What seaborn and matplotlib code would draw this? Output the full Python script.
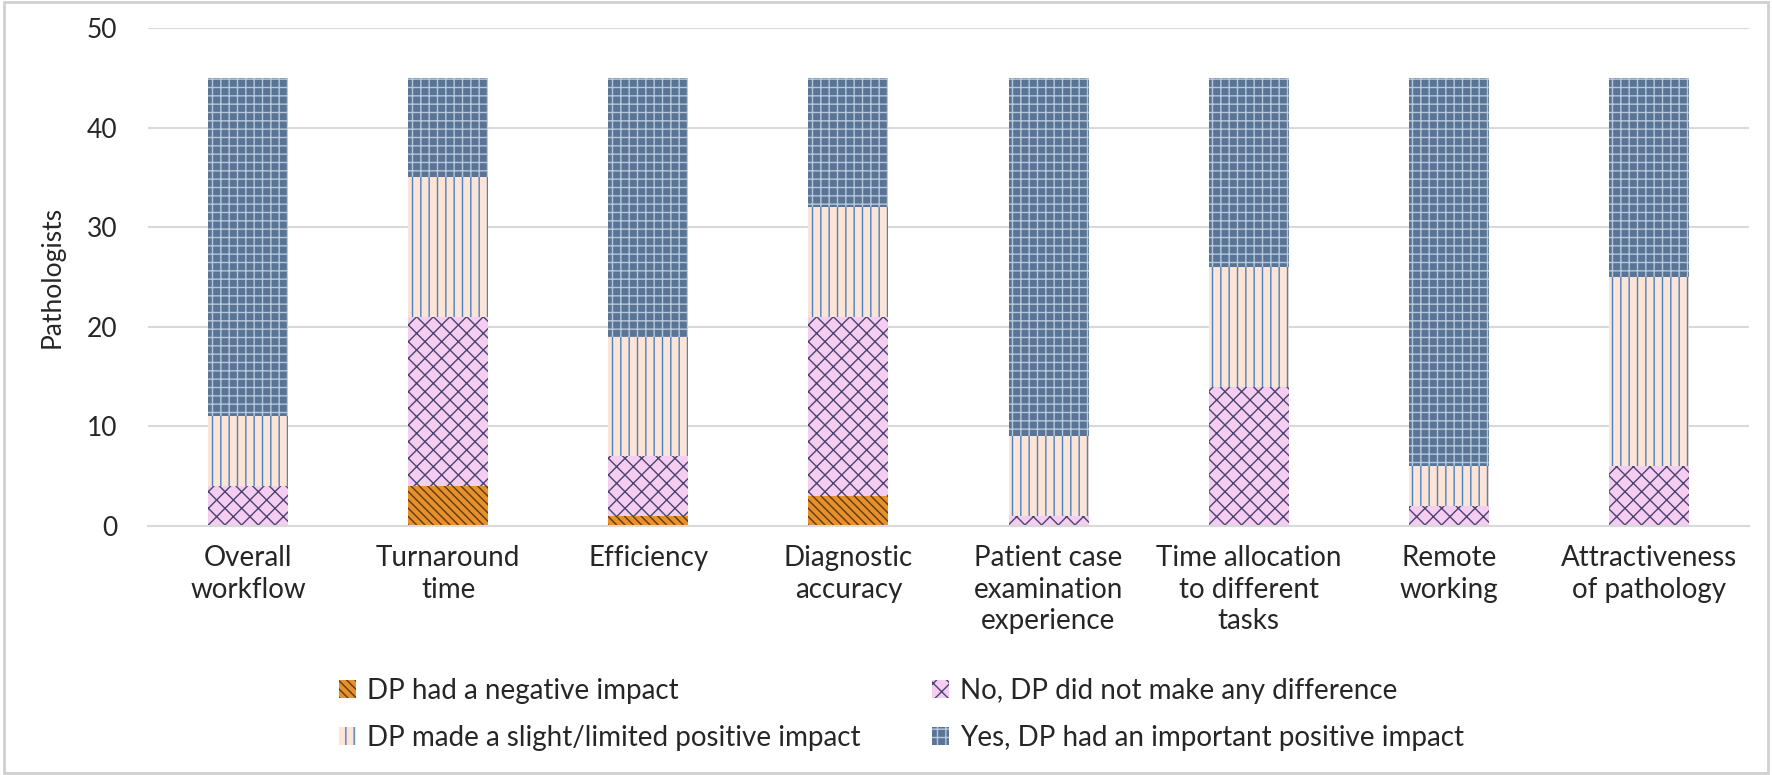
import numpy as np
import pandas as pd
import matplotlib
matplotlib.use("Agg")
import matplotlib.pyplot as plt
import seaborn as sns
from matplotlib.patches import Patch, Rectangle

# --- data ---
categories = ["Overall\nworkflow", "Turnaround\ntime", "Efficiency", "Diagnostic\naccuracy",
              "Patient case\nexamination\nexperience", "Time allocation\nto different\ntasks",
              "Remote\nworking", "Attractiveness\nof pathology"]
negative = [0, 4, 1, 3, 0, 0, 0, 0]
no_difference = [4, 17, 6, 18, 1, 14, 2, 6]
slight_positive = [7, 14, 12, 11, 8, 12, 4, 19]
important_positive = [34, 10, 26, 13, 36, 19, 39, 20]

series_names = ["DP had a negative impact", "No, DP did not make any difference",
                "DP made a slight/limited positive impact", "Yes, DP had an important positive impact"]

df = pd.DataFrame({
    "Category": categories,
    series_names[0]: negative,
    series_names[1]: no_difference,
    series_names[2]: slight_positive,
    series_names[3]: important_positive,
})

# cumulative tops, drawn largest first so smaller stacks sit on top
cum = df[series_names].cumsum(axis=1)

styles = {
    series_names[0]: dict(face="#e8902c", hatch_col="#5b3a12", hatch="\\\\\\\\"),
    series_names[1]: dict(face="#f4cdf1", hatch_col="#4a4470", hatch="xx"),
    series_names[2]: dict(face="#fce4d6", hatch_col="#4a82c4", hatch="||"),
    series_names[3]: dict(face="#5a7496", hatch_col="#b8c8dc", hatch="++"),
}

sns.set_style("white")
plt.rcParams["font.family"] = ["Lato", "DejaVu Sans"]
plt.rcParams["hatch.linewidth"] = 1.0

fig = plt.figure(figsize=(17.72, 7.75), dpi=100)
ax = fig.add_axes([148 / 1772, 1 - 526 / 775, (1749 - 148) / 1772, (526 - 28) / 775])

for name in reversed(series_names):
    st = styles[name]
    plot_df = pd.DataFrame({"Category": categories, "Top": cum[name]})
    sns.barplot(data=plot_df, x="Category", y="Top", ax=ax, color=st["face"],
                width=0.4, hatch=st["hatch"], edgecolor=st["hatch_col"], linewidth=0,
                saturation=1)

ax.set_ylim(0, 50)
ax.set_yticks(range(0, 51, 10))
ax.set_xlim(-0.5, len(categories) - 0.5)
ax.yaxis.grid(True, color="#d9d9d9", linewidth=1.5)
ax.set_axisbelow(True)
for s in ["top", "right", "left"]:
    ax.spines[s].set_visible(False)
ax.spines["bottom"].set_color("#d9d9d9")
ax.spines["bottom"].set_linewidth(1.5)
ax.tick_params(axis="both", length=0)
ax.tick_params(axis="y", labelsize=19, pad=22)
ax.tick_params(axis="x", labelsize=20, pad=14)
for lbl in ax.get_xticklabels():
    lbl.set_linespacing(1.25)
ax.set_xlabel("")
ax.set_ylabel("Pathologists", fontsize=19, labelpad=16)

handles = [Patch(facecolor=styles[n]["face"], edgecolor=styles[n]["hatch_col"],
                 hatch=styles[n]["hatch"], linewidth=0) for n in series_names]
order = [0, 2, 1, 3]
fig.legend([handles[i] for i in order], [series_names[i] for i in order],
           loc="upper left", bbox_to_anchor=(325 / 1772, 1 - 664 / 775), ncol=2,
           frameon=False, fontsize=20, handlelength=0.6, handleheight=0.6,
           handletextpad=0.4, labelspacing=0.75, columnspacing=2.6, borderpad=0)

fig.patches.append(Rectangle((0.002, 0.003), 0.996, 0.994, transform=fig.transFigure,
                             fill=False, edgecolor="#d0d0d0", linewidth=2))

fig.savefig("out.png", dpi=100)
